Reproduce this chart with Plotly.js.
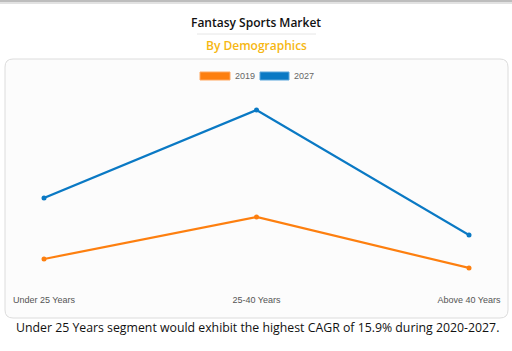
<!DOCTYPE html>
<html><head><meta charset="utf-8">
<script src="https://cdn.plot.ly/plotly-3.0.1.min.js"></script>
<style>html,body{margin:0;padding:0;background:#fff;}#c{width:512px;height:351px;}</style>
</head><body><div id="c"></div>
<script>
const categories = ["Under 25 Years", "25-40 Years", "Above 40 Years"];
const seriesNames = ["2019", "2027"];
const values2019 = [31, 73, 22];
const values2027 = [92, 180, 55];
const colors = ["#fd7f0f", "#0a79c4"];

const traces = [values2019, values2027].map((v, i) => ({
  type: "scatter", mode: "lines+markers", x: categories, y: v, name: seriesNames[i],
  line: {color: colors[i], width: 2.2}, marker: {color: colors[i], size: 5},
  showlegend: false, hoverinfo: "skip", cliponaxis: false
}));

const W = 512, H = 351, L = 44, R = 43, T = 80, B = 61;
const pw = W - L - R, ph = H - T - B;
const px = x => (x - L) / pw;
const py = y => (H - B - y) / ph;

const x0 = px(5), x1 = px(508), y0 = py(318), y1 = py(59);
const rx = 8 / pw, ry = 8 / ph;

const layout = {
  width: W, height: H,
  margin: {l: L, r: R, t: T, b: B},
  paper_bgcolor: "#ffffff", plot_bgcolor: "rgba(0,0,0,0)",
  font: {family: "Arial, Liberation Sans, sans-serif"},
  xaxis: {type: "category", range: [0, 2], showgrid: false, zeroline: false, showline: false,
    ticks: "", tickfont: {size: 9, color: "#555"}, ticklabelstandoff: 3, fixedrange: true},
  yaxis: {range: [0, 210], visible: false, fixedrange: true},
  shapes: [
    {type: "rect", xref: "paper", yref: "paper", x0: px(0), x1: px(512), y0: py(2), y1: py(0),
     fillcolor: "#bdbdbd", line: {width: 0}, layer: "below"},
    {type: "rect", xref: "paper", yref: "paper", x0: px(0), x1: px(512), y0: py(4), y1: py(2),
     fillcolor: "#e2e2e2", line: {width: 0}, layer: "below"},
    {type: "path", xref: "paper", yref: "paper", layer: "below", fillcolor: "#fcfcfc",
     line: {color: "#dcdcdc", width: 1},
     path: `M ${x0+rx} ${y0} L ${x1-rx} ${y0} Q ${x1} ${y0} ${x1} ${y0+ry} L ${x1} ${y1-ry} Q ${x1} ${y1} ${x1-rx} ${y1} L ${x0+rx} ${y1} Q ${x0} ${y1} ${x0} ${y1-ry} L ${x0} ${y0+ry} Q ${x0} ${y0} ${x0+rx} ${y0} Z`},
    {type: "line", xref: "paper", yref: "paper", x0: px(197), x1: px(316), y0: py(34), y1: py(34),
     line: {color: "#e6e6e6", width: 1}},
    {type: "rect", xref: "paper", yref: "paper", x0: px(200), x1: px(230), y0: py(80), y1: py(72),
     fillcolor: colors[0], line: {color: "#ffa860", width: 1}},
    {type: "rect", xref: "paper", yref: "paper", x0: px(260), x1: px(289), y0: py(80), y1: py(72),
     fillcolor: colors[1], line: {color: "#5aa6db", width: 1}}
  ],
  annotations: [
    {text: "Fantasy Sports Market", xref: "paper", yref: "paper", x: px(256), y: py(22),
     xanchor: "center", yanchor: "middle", showarrow: false,
     font: {family: "Open Sans", size: 12, color: "#111", weight: 600}},
    {text: "By Demographics", xref: "paper", yref: "paper", x: px(256), y: py(46),
     xanchor: "center", yanchor: "middle", showarrow: false,
     font: {family: "Open Sans", size: 12, color: "#f6b712", weight: 600}},
    {text: "Under 25 Years segment would exhibit the highest CAGR of 15.9% during 2020-2027.",
     xref: "paper", yref: "paper", x: px(257), y: py(327), xanchor: "center", yanchor: "middle", showarrow: false,
     font: {family: "Open Sans", size: 12.3, color: "#111", weight: 500}},
    {text: seriesNames[0], xref: "paper", yref: "paper", x: px(233), y: py(76),
     xanchor: "left", yanchor: "middle", showarrow: false, font: {size: 9, color: "#666"}},
    {text: seriesNames[1], xref: "paper", yref: "paper", x: px(292), y: py(76),
     xanchor: "left", yanchor: "middle", showarrow: false, font: {size: 9, color: "#666"}}
  ]
};

Plotly.newPlot("c", traces, layout, {staticPlot: true, displayModeBar: false});
</script></body></html>
